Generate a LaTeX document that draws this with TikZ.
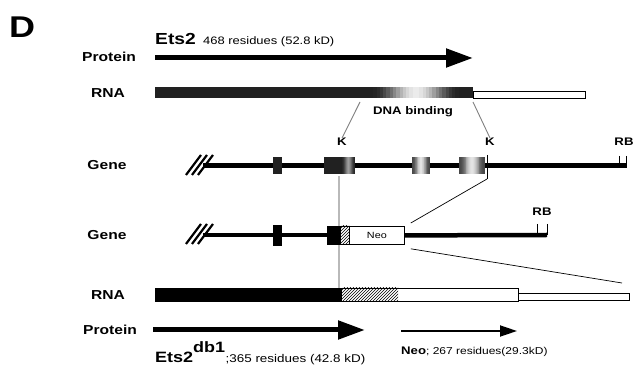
\documentclass[tikz,border=0pt]{standalone}
\usepackage{fontspec}
\setmainfont{Liberation Sans}[FakeStretch=1.2]
\usetikzlibrary{patterns,arrows.meta}
\definecolor{exdark}{gray}{0.13}
% a bar whose grey level rises from the edges (#5) to a bright centre (#6),
% built from nested, centred rectangles
\newcommand\glowstrip[6]{%
  \foreach \j in {0,...,13}{%
    \pgfmathsetmacro\glowh{0.5*(1-\j/14)}%
    \pgfmathsetmacro\glowlv{#5+(#6-#5)*(cos(180*\glowh))^2}%
    \definecolor{stripcol}{gray}{\glowlv}%
    \fill[stripcol] ({#1+(#2-#1)*(0.5-\glowh)},#3) rectangle ({#1+(#2-#1)*(0.5+\glowh)},#4);
  }}
\tikzset{
  lbl/.style={font=\bfseries\fontsize{13}{13}\selectfont, inner sep=0},
  tag/.style={font=\bfseries\fontsize{11}{11}\selectfont, inner sep=0},
  small/.style={font=\fontsize{10.8}{11}\selectfont, inner sep=0},
  glink/.style={gray, line width=0.9pt},
  blink/.style={black, line width=0.7pt},
  geneline/.style={line width=4.5pt},
  slash/.style={line width=2.2pt},
  tick/.style={line width=1pt},
  protarrow/.style={line width=5pt, -{Triangle[length=27pt,width=18pt]}},
  neoarrow/.style={line width=1.8pt, -{Triangle[length=17pt,width=11pt]}},
  outl/.style={draw=black, line width=0.8pt},
}
\begin{document}
\begin{tikzpicture}[x=1pt,y=-1pt]
\useasboundingbox (0,0) rectangle (638,371);

% panel letter
\node[font=\bfseries\fontsize{30}{30}\selectfont, inner sep=0, anchor=base west] (panel) at (9,38) {D};

% row labels
\node[lbl] (lprot1) at (109,57) {Protein};
\node[lbl] (lrna1)  at (108,93) {RNA};
\node[lbl] (lgene1) at (107,165) {Gene};
\node[lbl] (lgene2) at (107,235) {Gene};
\node[lbl] (lrna2)  at (108,295) {RNA};
\node[lbl] (lprot2) at (110,330) {Protein};

% ---- wild-type protein ----
\node[font=\bfseries\fontsize{16}{16}\selectfont, inner sep=0, anchor=base west] (ets2) at (155,45) {Ets2};
\node[small, anchor=base west] (ets2info) at (203,45) {468 residues (52.8 kD)};
\coordinate (p1s) at (155,58);
\coordinate (p1e) at (473,58);
\draw[protarrow] (p1s) -- (p1e);

% ---- wild-type RNA ----
\fill[exdark] (155,87) rectangle (473,98);
\glowstrip{370}{462}{87}{98}{0.13}{0.93}
\draw[outl, fill=white] (473,91.5) rectangle (585,98);
\coordinate (dbl) at (360,102);
\coordinate (dbr) at (473,102);
\node[tag] (dnab) at (413,112) {DNA binding};

% ---- wild-type gene ----
\foreach \i in {0,1,2} \draw[slash] (186+6*\i,175) -- (201+6*\i,155);
\draw[geneline] (203,165.5) -- (627,165.5);
\fill[exdark] (273,157) rectangle (282,174);
\fill[exdark] (324,157) rectangle (355,174);
\glowstrip{342}{355}{157}{174}{0.15}{0.62}
\glowstrip{412}{430}{157}{174}{0.28}{0.9}
\glowstrip{459}{485}{157}{174}{0.28}{0.9}
\coordinate (kex) at (339,176);
\coordinate (kt) at (487,179);
\draw[tick] (487,155) -- (kt);
\draw[tick] (619,156) -- (619,165);
\draw[tick] (626,156) -- (626,165);
\node[tag] (k1) at (342,142) {K};
\node[tag] (k2) at (490,142) {K};
\node[tag] (rb1) at (624,142) {RB};
\draw[glink] (dbl) -- (k1.north);
\draw[glink] (dbr) -- (k2.north);

% ---- targeted gene ----
\draw[gray!55, line width=1.8pt] (kex) -- (339,288);
\foreach \i in {0,1,2} \draw[slash] (186+6*\i,244) -- (201+6*\i,224);
\draw[line width=4.5pt] (203,235) -- (273,235);
\draw[line width=3.2pt] (282,235) -- (327,235);
\fill[black] (273,225) rectangle (282,246);
\fill[black] (327,226) rectangle (341,244);
\fill[white] (341,226) rectangle (349,244);
\fill[pattern=north east lines] (341,226) rectangle (349,244);
\node[draw=black, line width=0.8pt, fill=white, minimum width=55pt, minimum height=18pt, inner sep=0, anchor=north west, font=\fontsize{9}{9}\selectfont] (neo) at (349,226) {Neo};
\draw[outl] (327,226) rectangle (neo.south east);
\draw[geneline] (neo.east) -- (547,235);
\draw[tick] (537,224) -- (537,235);
\draw[tick] (547,224) -- (547,235);
\node[tag] (rb2) at (542,212) {RB};
\draw[blink] (kt) -- ([xshift=6pt,yshift=3pt]neo.north east);
\coordinate (rnaend) at (622,283);
\draw[blink] ([xshift=6pt,yshift=-4pt]neo.south east) -- (rnaend);

% ---- targeted RNA ----
\fill[black] (155,288) rectangle (342,301);
\fill[pattern=north east lines] (342,288) rectangle (398,301);
\draw[outl] (155,288) rectangle (518,301);
\draw[outl] (518,293) rectangle (629,300);

% ---- targeted proteins ----
\coordinate (p2s) at (153,330);
\coordinate (p2e) at (365,330);
\draw[protarrow] (p2s) -- (p2e);
\coordinate (p3s) at (401,331);
\coordinate (p3e) at (517,331);
\draw[neoarrow] (p3s) -- (p3e);

\node[font=\bfseries\fontsize{15}{15}\selectfont, inner sep=0, anchor=base west] (ets2db) at (155,363)
  {Ets2\raisebox{10pt}{\fontsize{15}{15}\selectfont db1}};
\node[font=\fontsize{11.2}{12}\selectfont, inner sep=0, anchor=base west] (ets2dbinfo) at (ets2db.base east) {;365 residues (42.8 kD)};
\node[inner sep=0, anchor=base west] (neoinfo) at (401,355)
  {{\bfseries\fontsize{11}{11}\selectfont Neo}{\fontsize{10}{10}\selectfont ; 267 residues(29.3kD)}};
\end{tikzpicture}
\end{document}
